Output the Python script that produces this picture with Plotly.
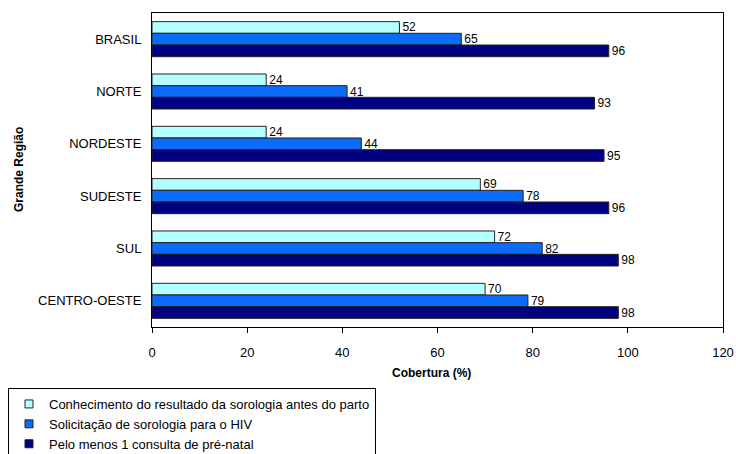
import plotly.graph_objects as go

regioes = ["BRASIL", "NORTE", "NORDESTE", "SUDESTE", "SUL", "CENTRO-OESTE"]
conhecimento = [52, 24, 24, 69, 72, 70]
solicitacao = [65, 41, 44, 78, 82, 79]
consulta = [96, 93, 95, 96, 98, 98]
series_names = [
    "Conhecimento do resultado da sorologia antes do parto",
    "Solicitação de sorologia para o HIV",
    "Pelo menos 1 consulta de pré-natal",
]
colors = ["#B3FFFF", "#0A6CF8", "#000080"]
x_ticks = [0, 20, 40, 60, 80, 100, 120]
x_title = "Cobertura (%)"
y_title = "Grande Região"

FONT = "Liberation Sans, Arial, sans-serif"

fig = go.Figure()
for name, vals, col in zip(series_names, [conhecimento, solicitacao, consulta], colors):
    fig.add_trace(go.Bar(
        y=regioes, x=vals, name=name, orientation="h",
        marker=dict(color=col, line=dict(color="#222222", width=1)),
        text=[str(v) for v in vals], textposition="outside",
        constraintext="none",
        textfont=dict(family=FONT, size=12, color="black"),
        cliponaxis=False, showlegend=False,
    ))
# legend entries with small square symbols
for name, col in zip(series_names, colors):
    fig.add_trace(go.Scatter(
        x=[None], y=[None], mode="markers", name=name,
        marker=dict(symbol="square", size=8, color=col,
                    line=dict(color="#222222", width=1)),
        showlegend=True,
    ))

fig.update_layout(
    width=736, height=454,
    margin=dict(l=152, r=13, t=13, b=127, autoexpand=False),
    paper_bgcolor="white", plot_bgcolor="white",
    barmode="group", bargap=0.33, bargroupgap=0,
    font=dict(family=FONT, size=12, color="black"),
    showlegend=True,
    legend=dict(
        xref="container", yref="container",
        x=8 / 736, y=1 - 388 / 454, xanchor="left", yanchor="top",
        bordercolor="black", borderwidth=1, bgcolor="white",
        font=dict(family=FONT, size=13, color="black"),
        traceorder="normal", itemwidth=30,
        tracegroupgap=0,
    ),
    annotations=[
        dict(text="<b>" + x_title + "</b>", xref="paper", yref="paper",
             x=0.49, y=-46 / 314, xanchor="center", yanchor="middle",
             showarrow=False, font=dict(family=FONT, size=12, color="black")),
        dict(text="<b>" + y_title + "</b>", xref="paper", yref="paper",
             x=(19 - 152) / 571, y=(327 - 170) / 314, xanchor="center", yanchor="middle",
             textangle=-90,
             showarrow=False, font=dict(family=FONT, size=12, color="black")),
    ],
)
fig.update_xaxes(
    range=[0, 120], tickvals=x_ticks, ticktext=[str(t) for t in x_ticks],
    showgrid=False, zeroline=False,
    showline=True, linecolor="black", linewidth=1, mirror=True,
    ticks="outside", ticklen=5, tickcolor="black",
    ticklabelstandoff=8,
    tickfont=dict(size=13),
)
fig.update_yaxes(
    autorange="reversed",
    showgrid=False, zeroline=False,
    showline=True, linecolor="black", linewidth=1, mirror=True,
    ticks="", tickfont=dict(size=13),
    ticklabelstandoff=7,
)

fig.write_html("out.html")
